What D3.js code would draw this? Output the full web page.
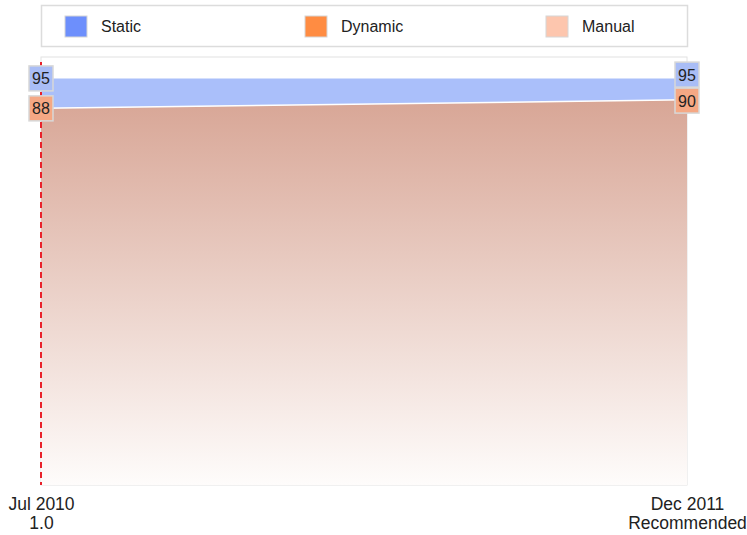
<!DOCTYPE html>
<html>
<head>
<meta charset="utf-8">
<script src="https://cdn.jsdelivr.net/npm/d3@7"></script>
<style>
  body { margin: 0; background: #fff; font-family: "Liberation Sans", Arial, sans-serif; }
</style>
</head>
<body>
<div id="viz"></div>
<script>
// data
dates = ['Jul 2010', 'Dec 2011'];
versions = ['1.0', 'Recommended'];
staticVals = [95, 95];
dynamicVals = [88, 90];
series = ['Static', 'Dynamic', 'Manual'];
colors = ['#6d8ffc', '#ff8c42', '#fdc6ae'];

margin = {top: 57, right: 60, bottom: 50, left: 41};
width = 747 - margin.left - margin.right;
height = 535 - margin.top - margin.bottom;

svg = d3.select('#viz').append('svg')
  .attr('width', 747)
  .attr('height', 535);

defs = svg.append('defs');
grad = defs.append('linearGradient')
  .attr('id', 'dynGrad')
  .attr('x1', 0).attr('x2', 0).attr('y1', 0).attr('y2', 1);
grad.append('stop').attr('offset', '0%').attr('stop-color', '#d8a696');
grad.append('stop').attr('offset', '100%').attr('stop-color', '#fefcfb');

// legend
legend = svg.append('g');
legend.append('rect')
  .attr('x', 41.5).attr('y', 5.5)
  .attr('width', 646).attr('height', 41)
  .attr('fill', '#fff')
  .attr('stroke', '#dcdcdc')
  .attr('stroke-width', 1.5);

legendX = [65, 305, 546];
items = legend.selectAll('g.item')
  .data(series)
  .enter()
  .append('g')
  .attr('class', 'item')
  .attr('transform', (d, i) => 'translate(' + legendX[i] + ',16)');
items.append('rect')
  .attr('width', 22).attr('height', 21)
  .attr('fill', (d, i) => colors[i])
  .attr('stroke', '#d6d6d6');
items.append('text')
  .attr('x', 36).attr('y', 16)
  .attr('font-size', 16)
  .attr('fill', '#222')
  .text(d => d);

g = svg.append('g')
  .attr('transform', 'translate(' + margin.left + ',' + margin.top + ')');

x = d3.scalePoint()
  .domain(d3.range(dates.length))
  .range([0, width]);

y = d3.scaleLinear()
  .domain([0, 100])
  .range([height, 0]);

// plot border
g.append('rect')
  .attr('width', width).attr('height', height)
  .attr('fill', '#fff')
  .attr('stroke', '#e2e2e2');

pts = d3.range(dates.length);

staticArea = d3.area()
  .x(i => x(i))
  .y0(i => y(dynamicVals[i]))
  .y1(i => y(staticVals[i]));

dynArea = d3.area()
  .x(i => x(i))
  .y0(y(0))
  .y1(i => y(dynamicVals[i]));

g.append('path')
  .datum(pts)
  .attr('d', staticArea)
  .attr('fill', '#aabffa');

g.append('path')
  .datum(pts)
  .attr('d', dynArea)
  .attr('fill', 'url(#dynGrad)');

g.append('path')
  .datum(pts)
  .attr('d', d3.line().x(i => x(i)).y(i => y(dynamicVals[i])))
  .attr('fill', 'none')
  .attr('stroke', '#fff')
  .attr('stroke-width', 1.5);

// red dashed marker at first release
g.append('line')
  .attr('x1', x(0)).attr('x2', x(0))
  .attr('y1', 5).attr('y2', height)
  .attr('stroke', '#e8212a')
  .attr('stroke-width', 2)
  .attr('stroke-dasharray', '6,4');

// axis
xAxis = g.append('g')
  .attr('transform', 'translate(0,' + height + ')')
  .call(d3.axisBottom(x).tickSize(0).tickFormat(''));
xAxis.select('.domain').remove();
xAxis.selectAll('.tick').each(function(d) {
  t = d3.select(this).append('text')
    .attr('text-anchor', 'middle')
    .attr('font-size', 17.5)
    .attr('fill', '#222');
  t.append('tspan').attr('x', 0).attr('y', 25).text(dates[d]);
  t.append('tspan').attr('x', 0).attr('y', 44).text(versions[d]);
});

// value labels
labels = [];
pts.forEach(function(i) {
  sy = y(staticVals[i]);
  dy = y(dynamicVals[i]);
  // push apart to avoid overlap
  if (dy - sy < 25) {
    mid = (sy + dy) / 2 - 1.5;
    sy = mid - 13;
    dy = mid + 13;
  }
  labels.push({i: i, v: staticVals[i], cy: sy, fill: '#a9bdf6'});
  labels.push({i: i, v: dynamicVals[i], cy: dy, fill: '#f5a884'});
});

lab = g.selectAll('g.lab')
  .data(labels)
  .enter()
  .append('g')
  .attr('class', 'lab')
  .attr('transform', d => 'translate(' + x(d.i) + ',' + d.cy + ')');
lab.append('rect')
  .attr('x', -12).attr('y', -12.5)
  .attr('width', 24).attr('height', 25)
  .attr('fill', d => d.fill)
  .attr('stroke', '#d8d8d8')
  .attr('stroke-width', 1.5);
lab.append('text')
  .attr('text-anchor', 'middle')
  .attr('y', 6)
  .attr('font-size', 16)
  .attr('fill', '#222')
  .text(d => d.v);
</script>
</body>
</html>
